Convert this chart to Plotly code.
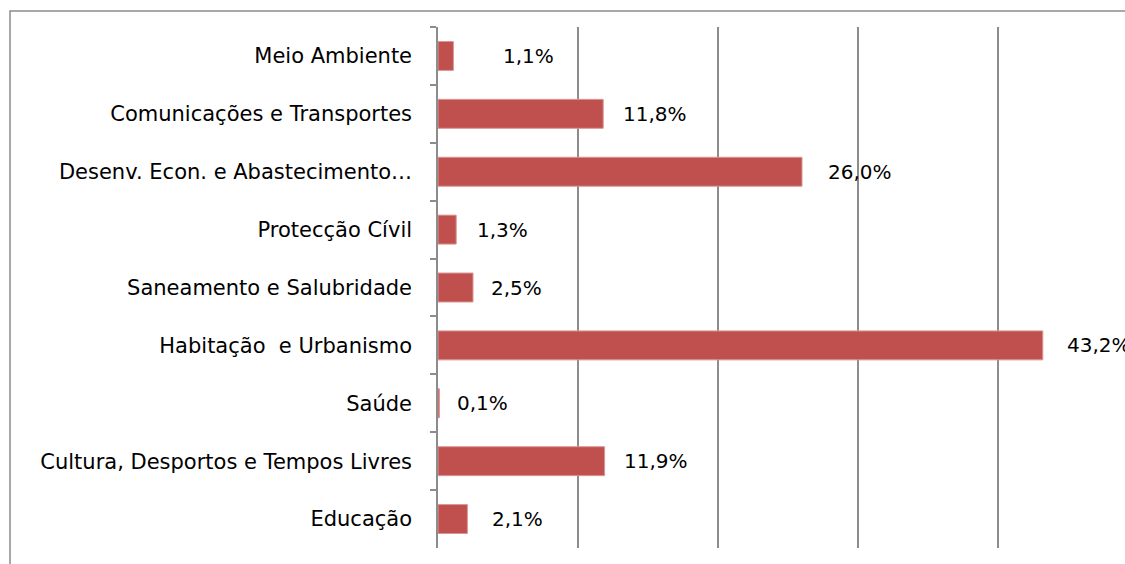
import plotly.graph_objects as go

categories = [
    "Meio Ambiente",
    "Comunicações e Transportes",
    "Desenv. Econ. e Abastecimento…",
    "Protecção Cívil",
    "Saneamento e Salubridade",
    "Habitação  e Urbanismo",
    "Saúde",
    "Cultura, Desportos e Tempos Livres",
    "Educação",
]
values = [1.1, 11.8, 26.0, 1.3, 2.5, 43.2, 0.1, 11.9, 2.1]
value_labels = ["1,1%", "11,8%", "26,0%", "1,3%", "2,5%", "43,2%", "0,1%", "11,9%", "2,1%"]
label_shift = [48, 18, 24, 19, 16, 22, 16, 17, 23]

FONT = "DejaVu Sans"
FS = 21
W, H = 1125, 564
L, R, T, B = 438, 0, 27, 16
pw, ph = W - L - R, H - T - B

fig = go.Figure()
fig.add_trace(go.Bar(
    y=categories, x=values, orientation="h",
    marker=dict(color="#C0504D", line=dict(color="#D99694", width=1)),
    width=0.5, hoverinfo="skip",
))

for c, v, t, s in zip(categories, values, value_labels, label_shift):
    fig.add_annotation(x=v, y=c, text=t, xanchor="left", yanchor="middle",
                       xshift=s, showarrow=False,
                       font=dict(family=FONT, size=FS - 1, color="#000000"))

fig.add_shape(type="rect", xref="paper", yref="paper",
              x0=(10 - L) / pw, x1=1.2, y0=-0.2, y1=1 + (T - 11) / ph,
              line=dict(color="#8C8C8C", width=1.5), fillcolor="rgba(0,0,0,0)",
              layer="below")

fig.update_layout(
    width=W, height=H,
    margin=dict(l=L, r=R, t=T, b=B),
    paper_bgcolor="white", plot_bgcolor="white",
    showlegend=False,
    xaxis=dict(range=[0, pw / 14.0], dtick=10, tick0=0,
               showgrid=True, gridcolor="#8C8C8C", gridwidth=1.5,
               showticklabels=False, zeroline=False, showline=False, ticks=""),
    yaxis=dict(autorange="reversed", showline=True, linecolor="#8C8C8C", linewidth=1.5,
               ticks="outside", ticklen=6, tickcolor="#8C8C8C", tickwidth=1.5,
               tickson="boundaries", showgrid=False, ticklabelstandoff=20,
               tickfont=dict(family=FONT, size=FS, color="#000000")),
)

fig.write_html("out.html",
               config={"displayModeBar": False},
               post_script="document.body.style.margin='0';document.body.style.overflow='hidden';")
